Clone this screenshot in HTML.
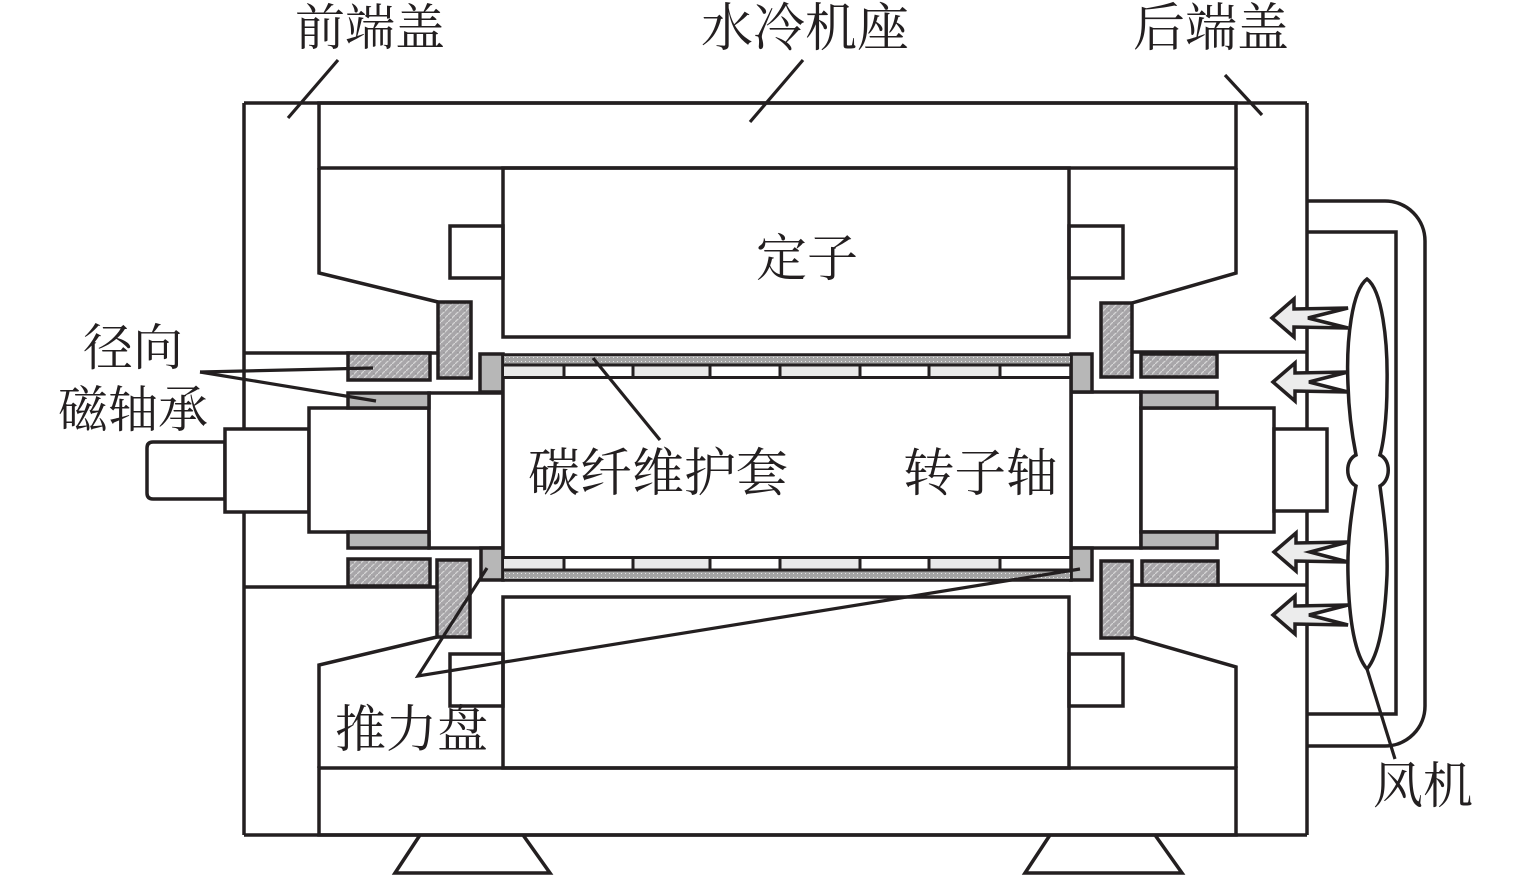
<!DOCTYPE html>
<html><head><meta charset="utf-8"><style>
html,body{margin:0;padding:0;background:#fff;}
svg{display:block;}
text{font-family:"Liberation Serif","Noto Serif CJK SC",serif;font-size:50px;fill:#231f20;}
</style></head><body>
<svg width="1535" height="877" viewBox="0 0 1535 877" xmlns="http://www.w3.org/2000/svg">
<defs>
<pattern id="hat" width="7" height="7" patternUnits="userSpaceOnUse">
<rect width="7" height="7" fill="#a8a6a9"/>
<path d="M0,7 L7,0" stroke="#d6d6d6" stroke-width="1.3"/>
<path d="M2,3 h2" stroke="#8e8c8f" stroke-width="1"/>
</pattern>
<pattern id="dot" width="4" height="4" patternUnits="userSpaceOnUse">
<rect width="4" height="4" fill="#a4a4a4"/>
<rect x="1" y="1" width="1" height="1" fill="#e6e6e6"/>
</pattern>
</defs>
<g stroke="#231f20" stroke-width="3.5" fill="none" stroke-linejoin="miter">
<line x1="244" y1="103" x2="1307" y2="103"/>
<line x1="244" y1="103" x2="244" y2="835"/>
<line x1="1307" y1="103" x2="1307" y2="835"/>
<line x1="244" y1="835" x2="1307" y2="835"/>
<rect x="319" y="103" width="917" height="65"/>
<rect x="319" y="768" width="917" height="67"/>
<polyline points="319,168 319,273 438,302"/>
<line x1="244" y1="353" x2="438" y2="353"/>
<polyline points="1236,168 1236,273 1132,303"/>
<line x1="1132" y1="352" x2="1307" y2="352"/>
<line x1="244" y1="587" x2="437" y2="587"/>
<polyline points="437,637 319,665 319,768"/>
<line x1="1132" y1="585" x2="1307" y2="585"/>
<polyline points="1132,637 1236,667 1236,768"/>
<rect x="503" y="168" width="566" height="169"/>
<rect x="450" y="226" width="53" height="52"/>
<rect x="1069" y="226" width="54" height="52"/>
<rect x="503" y="597" width="566" height="171"/>
<rect x="450" y="654" width="53" height="52"/>
<rect x="1069" y="654" width="54" height="52"/>
<polyline points="420,835 395,873 550,873 523,835"/>
<polyline points="1050,835 1025,873 1182,873 1155,835"/>
<path d="M1307,201 H1385 A40,40 0 0 1 1425,241 V706 A40,40 0 0 1 1385,746 H1307"/>
<path d="M1307,232 H1396 V714 H1307"/>
</g>

<g stroke="#231f20" stroke-width="3.5" stroke-linejoin="miter">
<path d="M225,442 H153 Q147,442 147,448 V493 Q147,499 153,499 H225 Z" fill="#fff"/>
<rect x="225" y="429" width="84" height="83" fill="#fff"/>
<rect x="309" y="408" width="120" height="124" fill="#fff"/>
<rect x="429" y="393" width="74" height="155" fill="#fff"/>
<rect x="1071" y="392" width="70" height="156" fill="#fff"/>
<rect x="1141" y="408" width="133" height="124" fill="#fff"/>
<rect x="1274" y="429" width="53" height="82" fill="#fff"/>
<rect x="348" y="393" width="81" height="15" fill="#b7b7b7"/>
<rect x="348" y="532" width="81" height="16" fill="#b7b7b7"/>
<rect x="1141" y="392" width="76" height="16" fill="#b7b7b7"/>
<rect x="1141" y="532" width="76" height="16" fill="#b7b7b7"/>
<rect x="480" y="354" width="23" height="38" fill="#b7b7b7"/>
<rect x="481" y="548" width="22" height="32" fill="#b7b7b7"/>
<rect x="1071" y="354" width="21" height="38" fill="#b7b7b7"/>
<rect x="1071" y="548" width="21" height="32" fill="#b7b7b7"/>
<rect x="348" y="353" width="82" height="27" fill="url(#hat)"/>
<rect x="438" y="302" width="33" height="76" fill="url(#hat)"/>
<rect x="348" y="559" width="82" height="27" fill="url(#hat)"/>
<rect x="437" y="560" width="33" height="77" fill="url(#hat)"/>
<rect x="1101" y="303" width="31" height="74" fill="url(#hat)"/>
<rect x="1141" y="354" width="76" height="23" fill="url(#hat)"/>
<rect x="1101" y="561" width="31" height="77" fill="url(#hat)"/>
<rect x="1142" y="561" width="76" height="24" fill="url(#hat)"/>
<rect x="503" y="355" width="568" height="225" fill="#fff"/>
</g>

<g>
<rect x="504" y="356" width="566" height="8" fill="url(#dot)"/>
<rect x="504" y="366" width="60" height="10" fill="#e9e9e9"/>
<rect x="633" y="366" width="77" height="10" fill="#e9e9e9"/>
<rect x="780" y="366" width="80" height="10" fill="#e9e9e9"/>
<rect x="929" y="366" width="71" height="10" fill="#e9e9e9"/>
<rect x="504" y="559" width="60" height="10" fill="#e9e9e9"/>
<rect x="633" y="559" width="77" height="10" fill="#e9e9e9"/>
<rect x="780" y="559" width="80" height="10" fill="#e9e9e9"/>
<rect x="929" y="559" width="71" height="10" fill="#e9e9e9"/>
<rect x="504" y="571" width="566" height="8" fill="url(#dot)"/>
</g>
<g stroke="#231f20" stroke-width="3">
<line x1="503" y1="365" x2="1071" y2="365"/>
<line x1="503" y1="377.5" x2="1071" y2="377.5"/>
<line x1="503" y1="557.5" x2="1071" y2="557.5"/>
<line x1="503" y1="570" x2="1071" y2="570"/>
<line x1="564" y1="365" x2="564" y2="378"/>
<line x1="633" y1="365" x2="633" y2="378"/>
<line x1="710" y1="365" x2="710" y2="378"/>
<line x1="780" y1="365" x2="780" y2="378"/>
<line x1="860" y1="365" x2="860" y2="378"/>
<line x1="929" y1="365" x2="929" y2="378"/>
<line x1="1000" y1="365" x2="1000" y2="378"/>
<line x1="564" y1="557" x2="564" y2="570"/>
<line x1="633" y1="557" x2="633" y2="570"/>
<line x1="710" y1="557" x2="710" y2="570"/>
<line x1="780" y1="557" x2="780" y2="570"/>
<line x1="860" y1="557" x2="860" y2="570"/>
<line x1="929" y1="557" x2="929" y2="570"/>
<line x1="1000" y1="557" x2="1000" y2="570"/>
</g>

<path d="M1367,279 C1352,290 1346,340 1348,385 C1349,420 1354,445 1356,455 C1345,460 1345,480 1356,486 C1352,510 1347,540 1348,575 C1349,620 1355,655 1367,669 C1379,655 1385,620 1387,575 C1388,540 1383,510 1380,486 C1391,480 1391,460 1380,455 C1383,445 1387,420 1387,385 C1388,340 1382,290 1367,279 Z" fill="#fff" stroke="#231f20" stroke-width="3.5"/>
<g fill="#ececec" stroke="#231f20" stroke-width="3.5" stroke-linejoin="miter">
<polygon points="1272,318 1294,299 1294,309 1348,308 1308,318 1348,328 1294,327 1294,337"/>
<polygon points="1273,382 1295,363 1295,373 1348,372 1309,382 1348,392 1295,391 1295,401"/>
<polygon points="1274,552 1296,533 1296,543 1348,542 1310,552 1348,562 1296,561 1296,571"/>
<polygon points="1273,615 1295,596 1295,606 1348,605 1309,615 1348,625 1295,624 1295,634"/>
</g>

<g stroke="#231f20" stroke-width="3.2" fill="none">
<line x1="338" y1="60" x2="288" y2="118"/>
<line x1="803" y1="60" x2="750" y2="122"/>
<line x1="1225" y1="75" x2="1262" y2="115"/>
<line x1="200" y1="372" x2="373" y2="368"/>
<line x1="200" y1="372" x2="376" y2="401"/>
<line x1="593" y1="358" x2="660" y2="440"/>
<polyline points="487,568 418,676 1080,569"/>
<line x1="1367" y1="669" x2="1395" y2="759"/>
</g>

<text x="295" y="45">前端盖</text>
<text x="701" y="46" style="font-size:52px">水冷机座</text>
<text x="1133" y="46" style="font-size:52px">后端盖</text>
<text x="756" y="276" style="font-size:51px">定子</text>
<text x="83" y="365">径向</text>
<text x="58" y="427">磁轴承</text>
<text x="528" y="491" style="font-size:52px">碳纤维护套</text>
<text x="903" y="491" style="font-size:51.5px">转子轴</text>
<text x="335" y="747" style="font-size:51px">推力盘</text>
<text x="1373" y="803">风机</text>
</svg>
</body></html>
